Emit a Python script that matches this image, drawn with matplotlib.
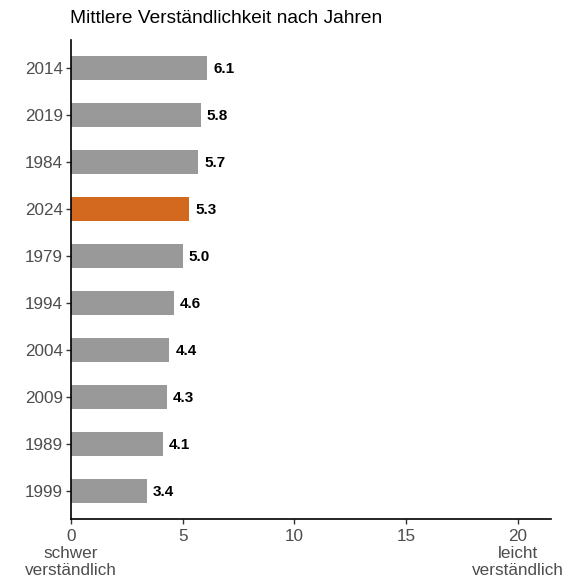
import matplotlib
matplotlib.use('Agg')
import matplotlib.pyplot as plt

plt.rcParams['font.family'] = ['Liberation Sans', 'DejaVu Sans']

# data, top to bottom
years = ['2014', '2019', '1984', '2024', '1979', '1994', '2004', '2009', '1989', '1999']
means = [6.1, 5.8, 5.7, 5.3, 5.0, 4.6, 4.4, 4.3, 4.1, 3.4]
highlight = '2024'
xticks = [0, 5, 10, 15, 20]
xticklabels = ['0\nschwer\nverständlich', '5', '10', '15', '20\nleicht\nverständlich']

fig = plt.figure(figsize=(5.76, 5.82), dpi=100)
ax = fig.add_axes([0.1233, 0.1082, 0.8333, 0.8231])

ypos = list(range(len(years)))[::-1]
colors = ['#D2691E' if y == highlight else '#999999' for y in years]
ax.barh(ypos, means, height=0.5, color=colors)
for y, v in zip(ypos, means):
    ax.text(v + 0.27, y - 0.02, '%.1f' % v, va='center', ha='left',
            fontsize=11, fontweight='bold', color='black')

ax.set_yticks(ypos)
ax.set_yticklabels(years)
ax.set_ylim(-0.6, len(years) - 0.4)
ax.set_xlim(0, 21.5)
ax.set_xticks(xticks)
ax.set_xticklabels(xticklabels, linespacing=1.15)

for s in ['top', 'right']:
    ax.spines[s].set_visible(False)
for s in ['left', 'bottom']:
    ax.spines[s].set_linewidth(1.2)
    ax.spines[s].set_color('black')
ax.tick_params(axis='both', labelsize=12.3, labelcolor='#4D4D4D',
               color='#333333', length=3.5, width=1.0)
ax.tick_params(axis='x', pad=4)
ax.tick_params(axis='y', pad=2.5)

fig.text(0.1215, 0.968, 'Mittlere Verständlichkeit nach Jahren',
         fontsize=13.8, ha='left', va='center', color='black')

fig.savefig('out.png', dpi=100)
